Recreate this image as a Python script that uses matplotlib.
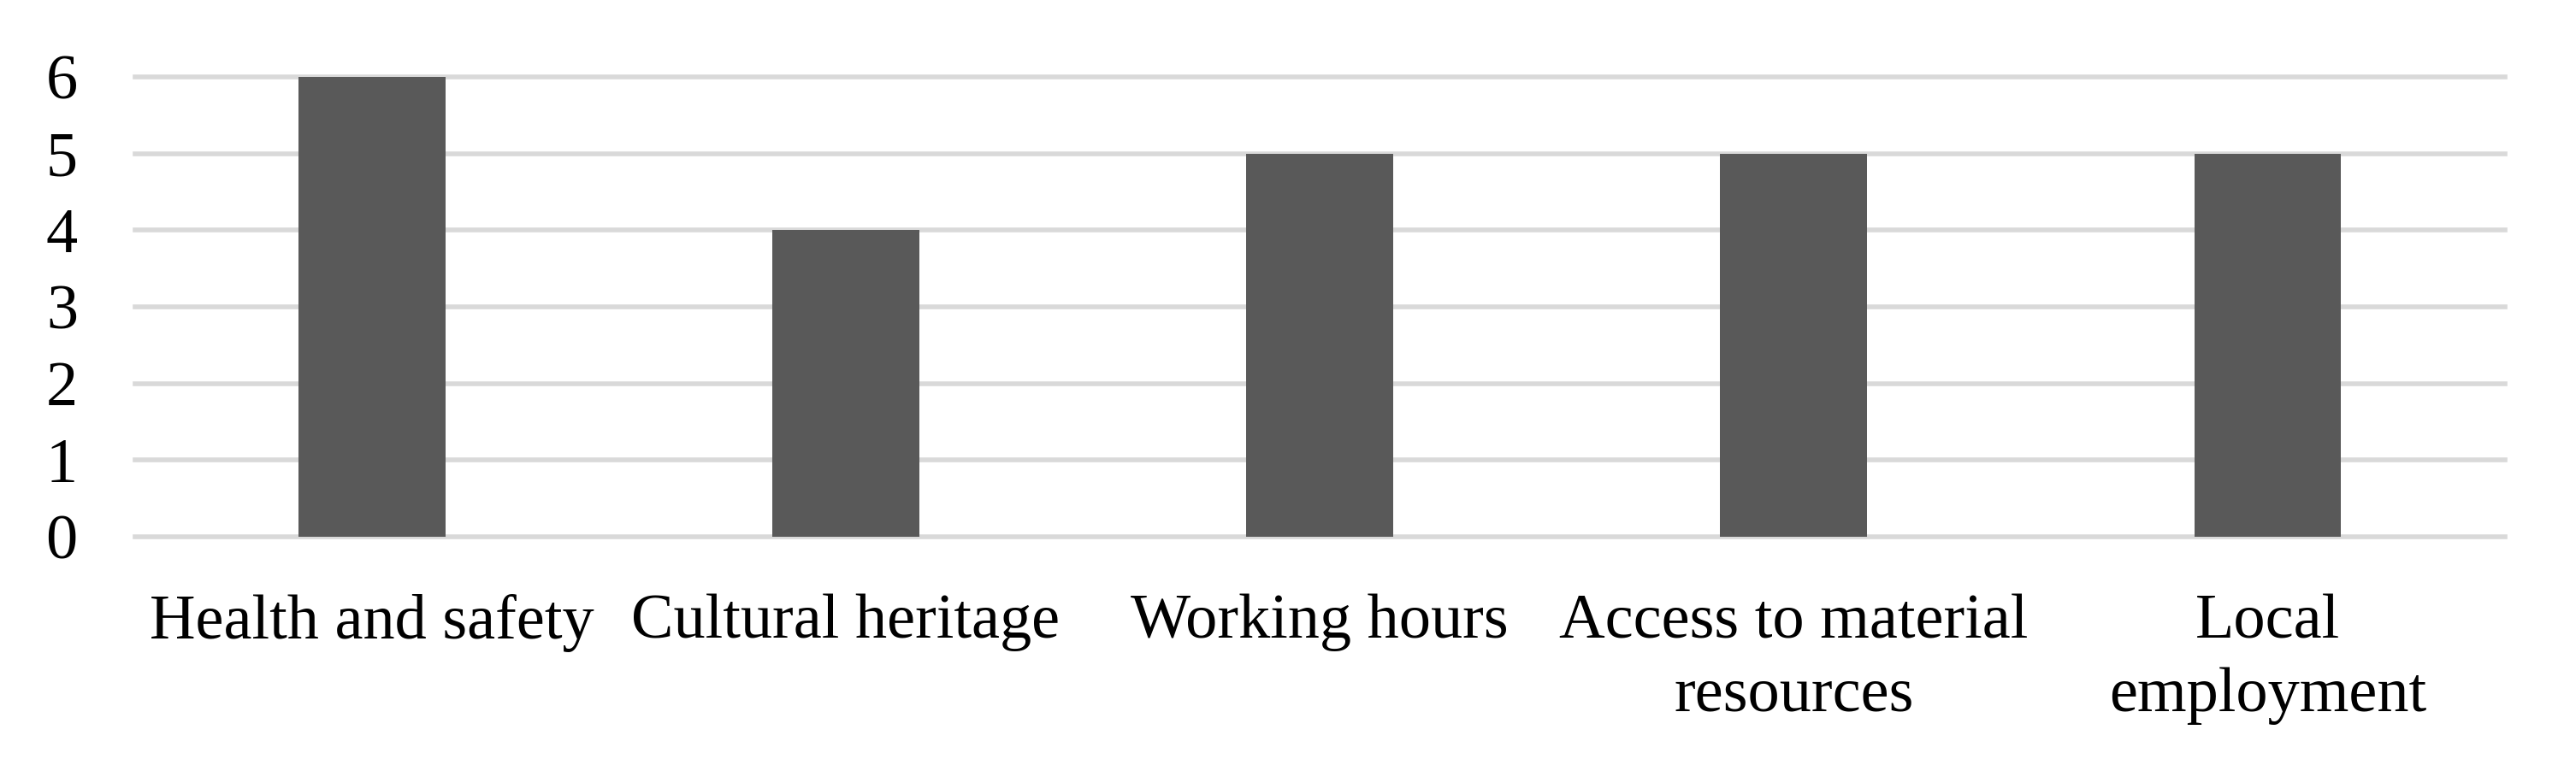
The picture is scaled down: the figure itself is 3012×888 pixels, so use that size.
import matplotlib
matplotlib.use("Agg")
import matplotlib.pyplot as plt
import numpy as np

# data
categories = [
    "Health and safety",
    "Cultural heritage",
    "Working hours",
    "Access to material\nresources",
    "Local\nemployment",
]
counts = [6, 4, 5, 5, 5]
yticks = [0, 1, 2, 3, 4, 5, 6]

plt.rcParams["font.family"] = ["Liberation Serif", "DejaVu Serif"]

bar_color = "#595959"
grid_color = "#d9d9d9"

fig = plt.figure(figsize=(30.12, 8.88), dpi=100, facecolor="white")
ax = fig.add_axes([0.0523, 0.2928, 0.9200, 0.6058])

x = np.arange(len(categories))
ax.bar(x, counts, width=0.31, color=bar_color, zorder=3)

ax.set_xlim(-0.5, len(categories) - 0.5)
ax.set_ylim(0, 6)
ax.set_yticks(yticks)
ax.set_yticklabels([str(v) for v in yticks])
ax.set_xticks(x)
ax.set_xticklabels(categories, linespacing=1.35)

ax.grid(axis="y", color=grid_color, linewidth=4, zorder=0)
for gl in ax.get_ygridlines():
    gl.set_clip_on(False)
ax.set_axisbelow(True)
for s in ax.spines.values():
    s.set_visible(False)

ax.tick_params(axis="both", length=0, labelsize=53.5)
ax.tick_params(axis="x", pad=48)
ax.tick_params(axis="y", pad=48)

fig.savefig("out.png", dpi=100, facecolor="white")
